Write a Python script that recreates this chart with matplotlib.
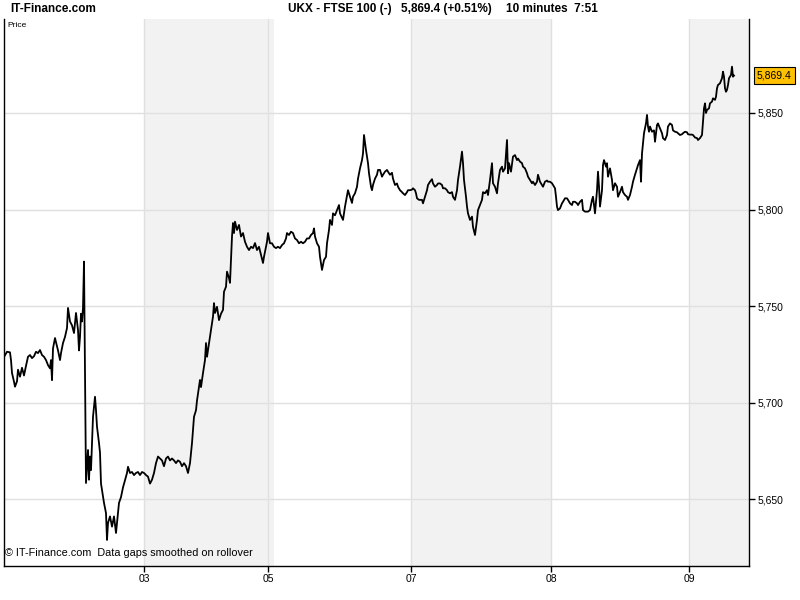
import matplotlib
matplotlib.use("Agg")
import matplotlib.pyplot as plt
from matplotlib.ticker import FuncFormatter

# 10 minute bars, position on the time axis and close price
bar = [4, 7, 10, 11, 12, 14, 15, 17, 18, 20, 22, 24, 26, 28, 30, 32, 34, 36, 38, 40,
       42, 44, 46, 48, 50, 51, 52, 53, 55, 57, 58, 60, 61, 63, 65, 67, 68, 70, 72, 74,
       76, 78, 79, 80, 81, 82, 83, 84, 85, 85.5, 86, 87, 88, 89, 90, 91, 93, 95, 96, 97,
       99, 100, 101, 102, 104, 106, 107, 108, 110, 112, 114, 116, 117, 119, 121, 123, 125, 127, 128, 130,
       132, 134, 136, 138, 140, 142, 144, 146, 148, 150, 152, 154, 156, 158, 160, 162, 164, 166, 168, 170,
       172, 174, 176, 178, 180, 182, 184, 186, 188, 190, 191, 192, 193, 194, 196, 197, 199, 200, 201, 203,
       205, 206, 207, 209, 211, 213, 214, 215, 217, 219, 221, 223, 224, 226, 227, 229, 230, 231, 232, 233,
       234, 235, 237, 239, 241, 243, 245, 247, 249, 251, 253, 255, 257, 259, 261, 263, 264, 266, 267, 268,
       270, 272, 274, 276, 278, 280, 282, 284, 286, 287, 289, 291, 293, 295, 297, 299, 301, 303, 305, 307,
       309, 311, 313, 314, 315, 317, 319, 320, 321, 322, 324, 326, 327, 328, 329, 330, 332, 333, 335, 337,
       339, 340, 343, 345, 348, 350, 352, 353, 355, 357, 358, 360, 362, 363, 364, 366, 367, 368, 369, 371,
       372, 373, 375, 377, 378, 380, 382, 383, 385, 387, 388, 390, 392, 393, 395, 397, 398, 400, 402, 403,
       405, 407, 408, 410, 412, 413, 415, 416, 417, 419, 422, 423, 425, 427, 428, 430, 432, 433, 435, 437,
       438, 440, 442, 443, 445, 447, 448, 450, 452, 453, 455, 457, 458, 460, 462, 463, 464, 466, 467, 468,
       470, 472, 473, 475, 477, 478, 480, 482, 483, 485, 487, 488, 490, 492, 493, 495, 497, 498, 500, 502,
       503, 505, 507, 508, 509, 511, 513, 515, 517, 518, 520, 522, 523, 525, 527, 528, 530, 532, 533, 535,
       537, 538, 540, 542, 543, 545, 547, 548, 550, 552, 553, 555, 556, 557, 558, 560, 562, 563, 565, 567,
       568, 570, 572, 573, 575, 577, 578, 580, 582, 583, 585, 587, 588, 590, 592, 593, 595, 597, 598, 599,
       600, 602, 603, 604, 606, 607, 608, 610, 612, 613, 615, 617, 618, 620, 622, 623, 625, 627, 628, 630,
       632, 633, 635, 637, 638, 640, 641, 642, 643, 644, 646, 647, 648, 649, 650, 652, 654, 655, 657, 658,
       660, 662, 663, 665, 667, 668, 670, 672, 673, 675, 677, 678, 680, 682, 683, 685, 687, 688, 690, 692,
       693, 695, 697, 698, 700, 702, 703, 704, 705, 706, 707, 709, 710, 712, 713, 715, 716, 717, 718, 720,
       722, 723, 724, 725, 726, 727, 728, 729, 731, 732, 733, 734]
close = [5723.6, 5726.3, 5726.0, 5722.0, 5715.3, 5710.8, 5708.2, 5711.0, 5717.0, 5713.4, 5718.0, 5714.0, 5719.0, 5723.7, 5724.6, 5723.0, 5724.0, 5726.3, 5725.6, 5727.2,
         5724.6, 5723.7, 5722.0, 5719.4, 5717.7, 5722.0, 5711.6, 5728.0, 5733.4, 5729.0, 5727.0, 5722.0, 5725.6, 5730.8, 5734.0, 5738.6, 5749.0, 5742.0, 5740.0, 5736.0,
         5746.4, 5737.6, 5727.0, 5734.0, 5746.0, 5742.0, 5749.0, 5773.0, 5713.0, 5684.0, 5658.3, 5667.0, 5675.4, 5660.0, 5672.0, 5665.0, 5692.6, 5703.0, 5696.0, 5687.5,
         5679.0, 5674.0, 5658.0, 5654.7, 5648.0, 5642.7, 5628.8, 5637.6, 5641.0, 5635.7, 5641.0, 5632.4, 5637.6, 5648.0, 5651.0, 5656.0, 5659.8, 5663.5, 5666.7, 5663.5,
         5664.0, 5662.4, 5663.5, 5664.0, 5662.4, 5664.0, 5663.5, 5662.4, 5661.6, 5658.0, 5660.0, 5663.5, 5668.6, 5672.0, 5671.0, 5670.0, 5667.0, 5671.0, 5672.0, 5670.0,
         5671.0, 5670.0, 5668.6, 5670.0, 5669.3, 5667.0, 5668.6, 5667.0, 5663.5, 5668.6, 5673.8, 5679.0, 5685.8, 5692.6, 5696.0, 5701.0, 5708.0, 5711.7, 5708.0, 5715.3,
         5722.0, 5730.8, 5723.7, 5730.8, 5737.6, 5744.5, 5751.5, 5746.4, 5749.6, 5742.7, 5746.0, 5748.0, 5757.4, 5760.0, 5767.8, 5764.5, 5762.0, 5773.8, 5786.0, 5793.0,
         5787.8, 5793.7, 5789.4, 5792.0, 5786.0, 5787.8, 5783.3, 5780.7, 5779.0, 5780.7, 5780.0, 5782.6, 5779.0, 5780.7, 5776.4, 5772.3, 5775.5, 5780.7, 5783.3, 5787.8,
         5782.5, 5782.5, 5780.7, 5780.0, 5780.7, 5780.0, 5781.6, 5782.5, 5785.0, 5787.8, 5786.8, 5788.5, 5787.8, 5785.0, 5784.2, 5782.5, 5783.3, 5782.5, 5783.3, 5785.0,
         5785.0, 5786.8, 5787.8, 5790.2, 5786.0, 5782.5, 5780.7, 5775.5, 5772.0, 5768.7, 5773.8, 5775.5, 5782.5, 5786.0, 5789.4, 5794.6, 5792.0, 5798.0, 5797.0, 5799.7,
         5802.3, 5798.0, 5794.6, 5801.5, 5810.0, 5806.6, 5803.4, 5806.6, 5808.4, 5811.8, 5816.0, 5821.3, 5825.6, 5829.0, 5838.6, 5830.8, 5827.4, 5824.0, 5818.8, 5811.8,
         5810.0, 5812.7, 5816.0, 5818.0, 5820.5, 5820.5, 5817.0, 5818.0, 5819.6, 5820.5, 5819.6, 5818.0, 5819.0, 5816.0, 5812.7, 5813.5, 5811.8, 5810.0, 5809.0, 5808.4,
         5807.5, 5809.0, 5810.0, 5810.0, 5810.3, 5811.0, 5810.0, 5808.4, 5805.8, 5805.0, 5805.0, 5803.2, 5806.6, 5810.0, 5812.7, 5814.4, 5815.7, 5813.5, 5811.8, 5812.7,
         5813.5, 5813.5, 5812.7, 5811.0, 5811.0, 5810.0, 5809.0, 5808.4, 5809.0, 5806.6, 5805.0, 5810.0, 5815.3, 5822.2, 5830.0, 5824.0, 5815.3, 5806.6, 5801.5, 5798.0,
         5794.6, 5796.3, 5791.0, 5786.8, 5794.6, 5799.7, 5802.3, 5805.0, 5809.0, 5808.4, 5810.0, 5807.5, 5815.3, 5824.0, 5813.6, 5811.8, 5808.4, 5813.6, 5820.5, 5822.2,
         5819.6, 5821.3, 5836.0, 5818.8, 5824.0, 5819.6, 5827.4, 5828.2, 5825.6, 5826.4, 5824.8, 5824.0, 5822.2, 5821.3, 5818.8, 5817.0, 5815.3, 5813.6, 5814.4, 5812.7,
         5814.4, 5818.0, 5814.4, 5812.7, 5811.8, 5814.4, 5815.0, 5814.4, 5814.4, 5813.6, 5812.7, 5811.0, 5806.6, 5801.5, 5799.7, 5800.6, 5803.2, 5804.0, 5805.8, 5805.8,
         5805.0, 5803.2, 5802.3, 5804.0, 5804.0, 5803.2, 5802.3, 5804.0, 5805.0, 5799.7, 5798.9, 5798.9, 5798.9, 5799.7, 5805.0, 5806.6, 5798.0, 5810.0, 5819.6, 5811.8,
         5801.5, 5810.0, 5823.0, 5825.6, 5822.2, 5824.0, 5817.0, 5821.3, 5815.3, 5810.0, 5813.6, 5811.8, 5806.6, 5809.0, 5811.8, 5809.0, 5807.5, 5806.6, 5805.0, 5807.5,
         5811.8, 5814.4, 5818.0, 5821.3, 5823.0, 5825.6, 5814.4, 5829.0, 5834.2, 5839.5, 5844.7, 5849.0, 5843.0, 5840.3, 5843.0, 5840.3, 5841.0, 5835.1, 5843.8, 5844.6,
         5842.0, 5839.5, 5837.0, 5836.0, 5838.6, 5843.0, 5844.6, 5843.8, 5841.0, 5840.3, 5840.0, 5839.5, 5838.6, 5839.0, 5839.5, 5840.3, 5840.0, 5839.0, 5838.8, 5838.8,
         5838.6, 5837.3, 5837.0, 5836.0, 5837.0, 5838.6, 5845.5, 5852.4, 5855.0, 5850.0, 5851.6, 5852.4, 5855.0, 5855.9, 5857.6, 5856.8, 5858.4, 5862.8, 5864.5, 5865.4,
         5868.0, 5871.4, 5868.8, 5862.8, 5861.0, 5862.0, 5864.5, 5868.0, 5869.7, 5874.0, 5868.8, 5869.4]

day_ticks = [144, 268, 411, 551, 689]
day_labels = ['03', '05', '07', '08', '09']
shaded = [(144.5, 274), (411, 551), (689, 749)]
price_ticks = [5650, 5700, 5750, 5800, 5850]

plt.rcParams['font.family'] = ['Liberation Sans', 'DejaVu Sans']

fig = plt.figure(figsize=(8, 6), dpi=100)
ax = fig.add_axes([4/800, 34/600, 745/800, 547/600])

# zones grises des sessions
for a, b in shaded:
    ax.axvspan(a, b, color='#f2f2f2', zorder=0, lw=0)

ax.plot(bar, close, color='black', lw=1.3, zorder=3)

ax.set_xlim(4, 749)
ax.set_ylim(5615.3, 5898.7)

ax.set_xticks(day_ticks)
ax.set_xticklabels(day_labels)
ax.set_yticks(price_ticks)
ax.yaxis.set_major_formatter(FuncFormatter(lambda v, p: f'{v:,.0f}'))
ax.yaxis.tick_right()
ax.tick_params(axis='both', direction='out', length=4, width=1, labelsize=7.5, colors='black')
ax.tick_params(axis='y', pad=2)
ax.tick_params(axis='x', pad=2)
ax.grid(True, color='#e0e0e0', lw=1, zorder=1)
ax.set_axisbelow(True)

ax.spines['top'].set_visible(False)
for s in ['left', 'right', 'bottom']:
    ax.spines[s].set_linewidth(1)
    ax.spines[s].set_color('black')

# textos
ax.text(0.005, 0.995, 'Price', transform=ax.transAxes, fontsize=6, va='top', ha='left')
ax.text(0.002, 0.015, '\u00a9 IT-Finance.com  Data gaps smoothed on rollover',
        transform=ax.transAxes, fontsize=7.8, va='bottom', ha='left')

fig.text(10/800, 1 - 9/600, 'IT-Finance.com', fontsize=8.5, fontweight='bold', va='center', ha='left')
fig.text(288/800, 1 - 9/600, 'UKX - FTSE 100 (-)', fontsize=8.5, fontweight='bold', va='center', ha='left')
fig.text(401/800, 1 - 9/600, '5,869.4 (+0.51%)', fontsize=8.5, fontweight='bold', va='center', ha='left')
fig.text(506/800, 1 - 9/600, '10 minutes  7:51', fontsize=8.5, fontweight='bold', va='center', ha='left')

# rotulo do ultimo preco
ax.annotate(f'{close[-1]:,.1f}', xy=(1, close[-1]), xycoords=('axes fraction', 'data'),
            xytext=(8, 0), textcoords='offset pixels', fontsize=7.5, va='center', ha='left',
            bbox=dict(boxstyle='square,pad=0.3', fc='#ffc000', ec='black', lw=0.8),
            annotation_clip=False)

fig.savefig('out.png', dpi=100)
